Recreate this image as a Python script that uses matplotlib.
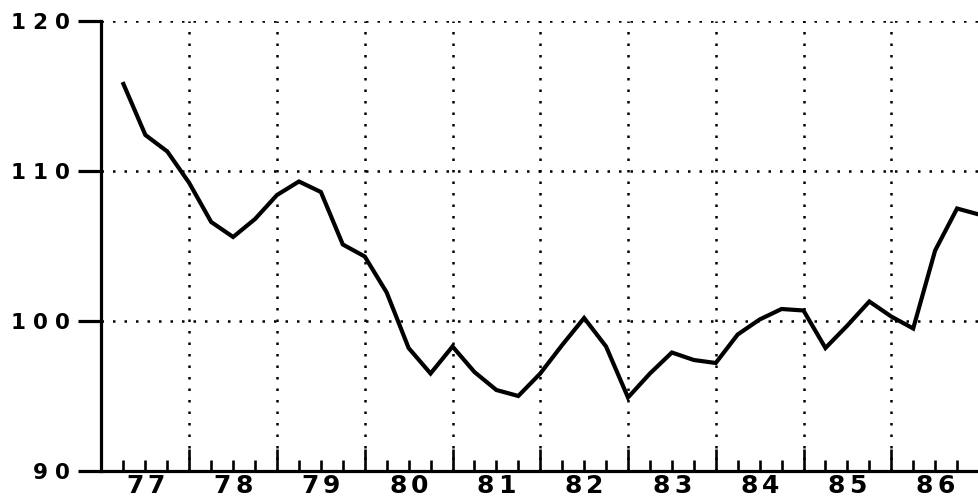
import matplotlib
matplotlib.use("Agg")
import matplotlib.pyplot as plt
import matplotlib.transforms as mtransforms
import numpy as np

# Data: quarterly index values, 1977Q1 .. 1986Q4
values = [115.8, 112.4, 111.3, 109.2, 106.6, 105.6, 106.8, 108.4, 109.3, 108.6,
          105.1, 104.3, 101.9, 98.2, 96.5, 98.3, 96.6, 95.4, 95.0, 96.5,
          98.4, 100.2, 98.3, 94.9, 96.5, 97.9, 97.4, 97.2, 99.1, 100.1,
          100.8, 100.7, 98.2, 99.7, 101.3, 100.3, 99.5, 104.7, 107.5, 107.1]
year_labels = ["77", "78", "79", "80", "81", "82", "83", "84", "85", "86"]
y_ticks = [90, 100, 110, 120]
y_labels = ["90", "100", "110", "120"]

W, H, DPI = 979, 498, 100
fig = plt.figure(figsize=(W / DPI, H / DPI), dpi=DPI)
left_px, bottom_px, top_px = 101.5, 471, 21
quarter_px = 22.125
ax = fig.add_axes([left_px / W, (H - bottom_px) / H, (W - left_px) / W, (bottom_px - top_px) / H])

x = np.arange(1, len(values) + 1)
ax.plot(x, values, color="black", lw=3.0, solid_joinstyle="miter", zorder=3)

ax.set_xlim(0, (W - left_px) / quarter_px)
ax.set_ylim(90, 120)

for s in ["top", "right"]:
    ax.spines[s].set_visible(False)
ax.spines["left"].set_linewidth(2.3)
ax.spines["bottom"].set_linewidth(2.3)

major_x = np.arange(4, 41, 4)
minor_x = [q for q in range(1, 41) if q % 4 != 0]
ax.set_xticks(major_x)
ax.set_xticks(minor_x, minor=True)
ax.set_yticks(y_ticks)
ax.tick_params(axis="x", which="major", direction="in", length=15.8, width=1.9, color="black", labelbottom=False)
ax.tick_params(axis="x", which="minor", direction="in", length=8, width=1.9, color="black")
ax.tick_params(axis="y", which="major", direction="out", length=16.6, width=2.3, color="black", labelleft=False)

dots = (0, (1, 3.6))
for yv in [100, 110, 120]:
    ax.axhline(yv, color="black", lw=1.8, linestyle=dots, zorder=1)
for xv in major_x:
    ax.axvline(xv, color="black", lw=1.8, linestyle=dots, zorder=1)

# y labels (letter-spaced, right-aligned to the tick)
ytrans = mtransforms.blended_transform_factory(ax.transAxes, ax.transData)
for yv, lab in zip(y_ticks, y_labels):
    n = len(lab)
    for i, ch in enumerate(lab):
        dx = -(left_px - 62) - (n - 1 - i) * 22
        tt = mtransforms.offset_copy(ytrans, fig=fig, x=dx, y=-7.5, units="dots")
        ax.text(0, yv, ch, transform=tt, ha="center", va="baseline", fontsize=15.5,
                fontweight="heavy", family="DejaVu Sans", color="black", clip_on=False)

# x labels (centered under each year)
xtrans = mtransforms.blended_transform_factory(ax.transData, ax.transAxes)
for k, lab in enumerate(year_labels):
    xc = 4 * k + 2
    n = len(lab)
    for i, ch in enumerate(lab):
        dx = (i - (n - 1) / 2) * 21.5
        tt = mtransforms.offset_copy(xtrans, fig=fig, x=dx, y=-22, units="dots")
        ax.text(xc, 0, ch, transform=tt, ha="center", va="baseline", fontsize=18,
                fontweight="heavy", family="DejaVu Sans", color="black", clip_on=False)

fig.savefig("out.png", dpi=DPI)
